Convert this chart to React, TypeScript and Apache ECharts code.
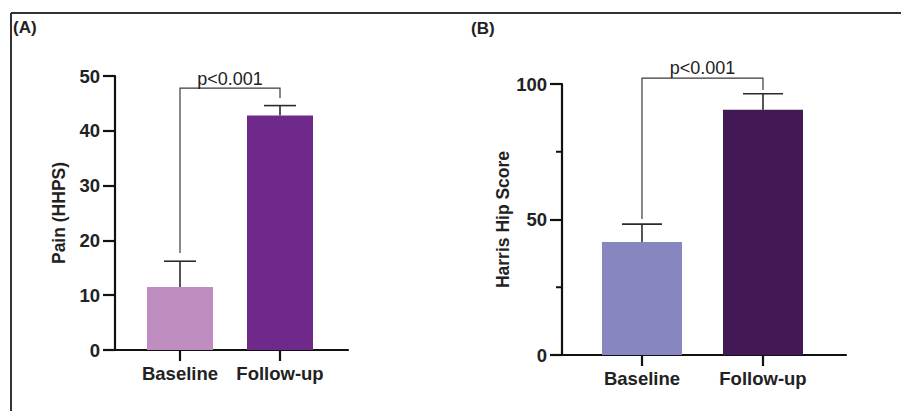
import React, { useEffect, useRef } from "react";
import * as echarts from "echarts";

const categories = ["Baseline", "Follow-up"];

// Panel A: Pain (HHPS)
const painMeans = [11.5, 42.8];
const painUpper = [16.2, 44.6];
const painColors = ["#C08DC0", "#6E298B"];
const painTicks = [0, 10, 20, 30, 40, 50];
// bracket: [leftStart, top, rightEnd]
const painBracket = [17.7, 47.8, 46.0];

// Panel B: Harris Hip Score
const hhsMeans = [41.7, 90.5];
const hhsUpper = [48.3, 96.4];
const hhsColors = ["#8886C0", "#431955"];
const hhsTicks = [0, 50, 100];
const hhsMinorTicks = [25, 75];
const hhsBracket = [50.2, 102.2, 97.8];

const pLabel = "p<0.001";

const FONT = "'Liberation Sans', Arial, sans-serif";

function errorSeries(xIdx: number, means: number[], upper: number[], capPx: number) {
  return {
    type: "custom",
    xAxisIndex: xIdx,
    yAxisIndex: xIdx,
    z: 5,
    data: means.map((m, i) => [i, m, upper[i]]),
    renderItem: (params: any, api: any) => {
      const x = api.value(0);
      const p0 = api.coord([x, api.value(1)]);
      const p1 = api.coord([x, api.value(2)]);
      const style = { stroke: "#2a2a2a", lineWidth: 1.6 };
      return {
        type: "group",
        children: [
          { type: "line", shape: { x1: p0[0], y1: p0[1], x2: p1[0], y2: p1[1] }, style },
          { type: "line", shape: { x1: p1[0] - capPx / 2, y1: p1[1], x2: p1[0] + capPx / 2, y2: p1[1] }, style },
        ],
      };
    },
  };
}

function minorTickSeries(xIdx: number, values: number[], len: number) {
  return {
    type: "custom",
    xAxisIndex: xIdx,
    yAxisIndex: xIdx,
    z: 7,
    clip: false,
    data: values.map((v) => [0, v]),
    renderItem: (params: any, api: any) => {
      const p = api.coord([0, api.value(1)]);
      const left = params.coordSys.x;
      return {
        type: "line",
        shape: { x1: left - len, y1: p[1], x2: left, y2: p[1] },
        style: { stroke: "#111", lineWidth: 2 },
      };
    },
  };
}

function bracketSeries(xIdx: number, b: number[], textGap: number) {
  return {
    type: "custom",
    xAxisIndex: xIdx,
    yAxisIndex: xIdx,
    z: 6,
    clip: false,
    data: [[0, b[0], 1, b[2], b[1]]],
    renderItem: (params: any, api: any) => {
      const a = api.coord([api.value(0), api.value(1)]);
      const t1 = api.coord([api.value(0), api.value(4)]);
      const t2 = api.coord([api.value(2), api.value(4)]);
      const c = api.coord([api.value(2), api.value(3)]);
      return {
        type: "group",
        children: [
          {
            type: "polyline",
            shape: { points: [a, t1, t2, c] },
            style: { stroke: "#3a3a3a", lineWidth: 1.2, fill: "none" },
          },
          {
            type: "text",
            x: (t1[0] + t2[0]) / 2,
            y: t1[1] - textGap,
            style: {
              text: pLabel,
              fill: "#222",
              fontSize: 18,
              fontFamily: FONT,
              align: "center",
              verticalAlign: "bottom",
            },
          },
        ],
      };
    },
  };
}

function barSeries(xIdx: number, means: number[], colors: string[], width: number) {
  return {
    type: "bar",
    xAxisIndex: xIdx,
    yAxisIndex: xIdx,
    barWidth: width,
    z: 3,
    data: means.map((m, i) => ({
      value: [i, m],
      itemStyle: { color: colors[i] },
    })),
  };
}

function xAxisDef(gridIndex: number, min: number, max: number) {
  return {
    type: "value",
    gridIndex,
    min,
    max,
    splitLine: { show: false },
    axisLine: { show: true, onZero: false, lineStyle: { color: "#111", width: 2.2 } },
    axisTick: {
      show: true,
      customValues: [0, 1],
      length: 11,
      lineStyle: { color: "#111", width: 2.2 },
    },
    axisLabel: {
      show: true,
      customValues: [0, 1],
      formatter: (v: number) => categories[Math.round(v)] ?? "",
      color: "#222",
      fontSize: 18.5,
      fontWeight: "bold",
      fontFamily: FONT,
      margin: 14,
    },
  };
}

function yAxisDef(gridIndex: number, max: number, interval: number, name: string, nameGap: number) {
  return {
    type: "value",
    gridIndex,
    min: 0,
    max,
    interval,
    name,
    nameLocation: "middle",
    nameGap,
    nameTextStyle: { color: "#222", fontSize: 17.5, fontWeight: "bold", fontFamily: FONT },
    splitLine: { show: false },
    axisLine: { show: true, onZero: false, lineStyle: { color: "#111", width: 2.2 } },
    axisTick: { show: true, inside: false, length: 12, lineStyle: { color: "#111", width: 2.2 } },
    axisLabel: {
      color: "#222",
      fontSize: 18.5,
      fontWeight: "bold",
      fontFamily: FONT,
      margin: 15,
    },
  };
}

export default function App() {
  const ref = useRef<HTMLDivElement>(null);
  useEffect(() => {
    if (!ref.current) return;
    const chart = echarts.init(ref.current, undefined, { renderer: "svg" });
    chart.setOption({
      animation: false,
      backgroundColor: "#ffffff",
      grid: [
        { left: 115, top: 76, width: 233, height: 274 },
        { left: 562, top: 84, width: 284, height: 271 },
      ],
      xAxis: [xAxisDef(0, -0.65, 1.68), xAxisDef(1, -0.661, 1.686)],
      yAxis: [
        yAxisDef(0, painTicks[painTicks.length - 1], 10, "Pain (HHPS)", 47),
        yAxisDef(1, hhsTicks[hhsTicks.length - 1], 50, "Harris Hip Score", 49),
      ],
      graphic: [
        { type: "line", shape: { x1: 11, y1: 13, x2: 901, y2: 13 }, style: { stroke: "#333", lineWidth: 2 } },
        { type: "line", shape: { x1: 11, y1: 13, x2: 11, y2: 411 }, style: { stroke: "#333", lineWidth: 2 } },
        {
          type: "text",
          left: 13,
          top: 19,
          style: { text: "(A)", fontSize: 17, fontWeight: "bold", fontFamily: FONT, fill: "#222" },
        },
        {
          type: "text",
          left: 471,
          top: 20,
          style: { text: "(B)", fontSize: 17, fontWeight: "bold", fontFamily: FONT, fill: "#222" },
        },
      ],
      series: [
        barSeries(0, painMeans, painColors, 66),
        errorSeries(0, painMeans, painUpper, 32),
        bracketSeries(0, painBracket, 0),
        barSeries(1, hhsMeans, hhsColors, 80),
        errorSeries(1, hhsMeans, hhsUpper, 40),
        bracketSeries(1, hhsBracket, 1),
        minorTickSeries(1, hhsMinorTicks, 6),
      ],
    });
    return () => chart.dispose();
  }, []);
  return (
    <div
      ref={ref}
      style={{ position: "absolute", left: 0, top: 0, width: 901, height: 411 }}
    />
  );
}
